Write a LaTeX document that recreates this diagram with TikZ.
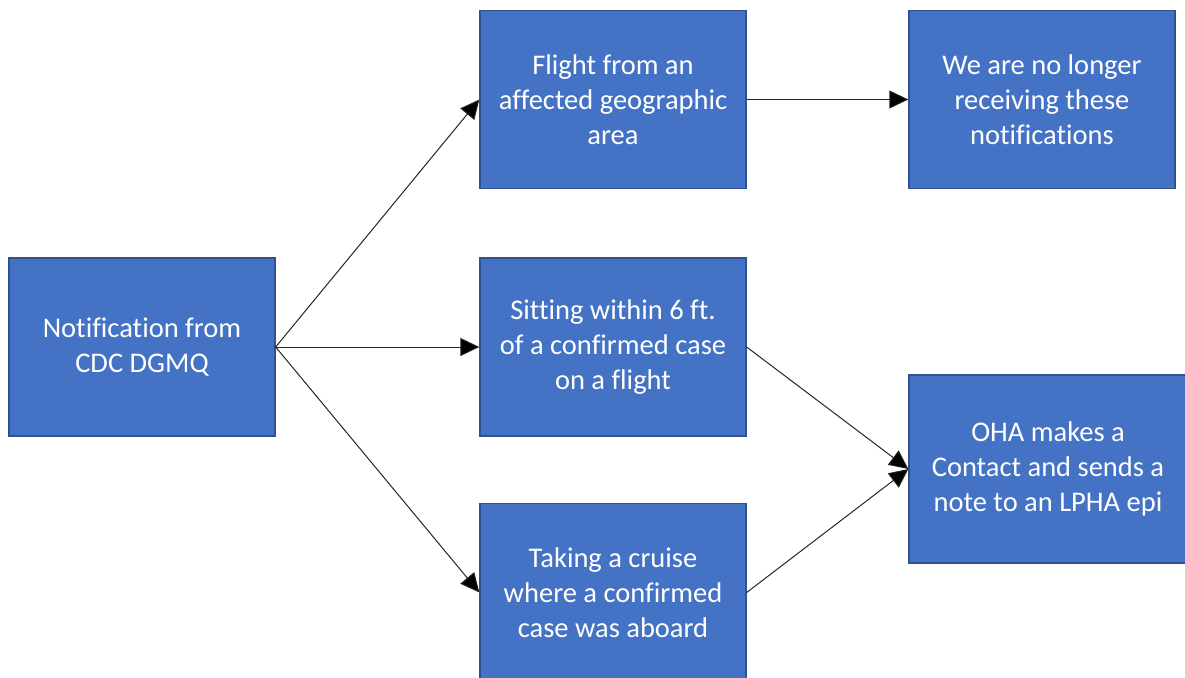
\documentclass[tikz,border=0pt]{standalone}
\usepackage{fontspec}
\setmainfont{Carlito}[Ligatures=NoCommon]
\usetikzlibrary{arrows.meta}
\definecolor{boxfill}{HTML}{4472C4}
\definecolor{boxline}{HTML}{2F528F}
\tikzset{
  flowbox/.style={draw=boxline, line width=1.3pt, fill=boxfill, text=white,
    minimum width=266pt, minimum height=178pt, inner sep=0pt, align=center,
    font=\fontsize{28.5pt}{35pt}\selectfont},
  conn/.style={draw=black!85, line width=1pt, -{Triangle[length=19pt,width=18pt,fill=black]}}
}
\begin{document}
\begin{tikzpicture}[x=1pt,y=1pt]
\useasboundingbox (0,0) rectangle (1185,-677);
\fill[white] (0,0) rectangle (1185,-677);
\node[flowbox] (a) at (142,-347) {Notification from\\CDC DGMQ};
\node[flowbox] (b1) at (613,-99.5) {Flight from an\\affected geographic\\area};
\node[flowbox] (b2) at (613,-347) {Sitting within 6 ft.\\of a confirmed case\\on a flight};
\node[flowbox] (b3) at (613,-592.5) {Taking a cruise\\where a confirmed\\case was aboard};
\node[flowbox] (c1) at (1042,-99.5) {We are no longer\\receiving these\\notifications};
\node[flowbox, minimum width=278pt, minimum height=188pt] (c2) at (1048,-469) {OHA makes a\\Contact and sends a\\note to an LPHA epi};
\draw[conn] (a.east) -- (b1.west);
\draw[conn] (a.east) -- (b2.west);
\draw[conn] (a.east) -- (b3.west);
\draw[conn] (b1.east) -- (c1.west);
\draw[conn] (b2.east) -- (c2.west);
\draw[conn] (b3.east) -- (c2.west);
\end{tikzpicture}
\end{document}
